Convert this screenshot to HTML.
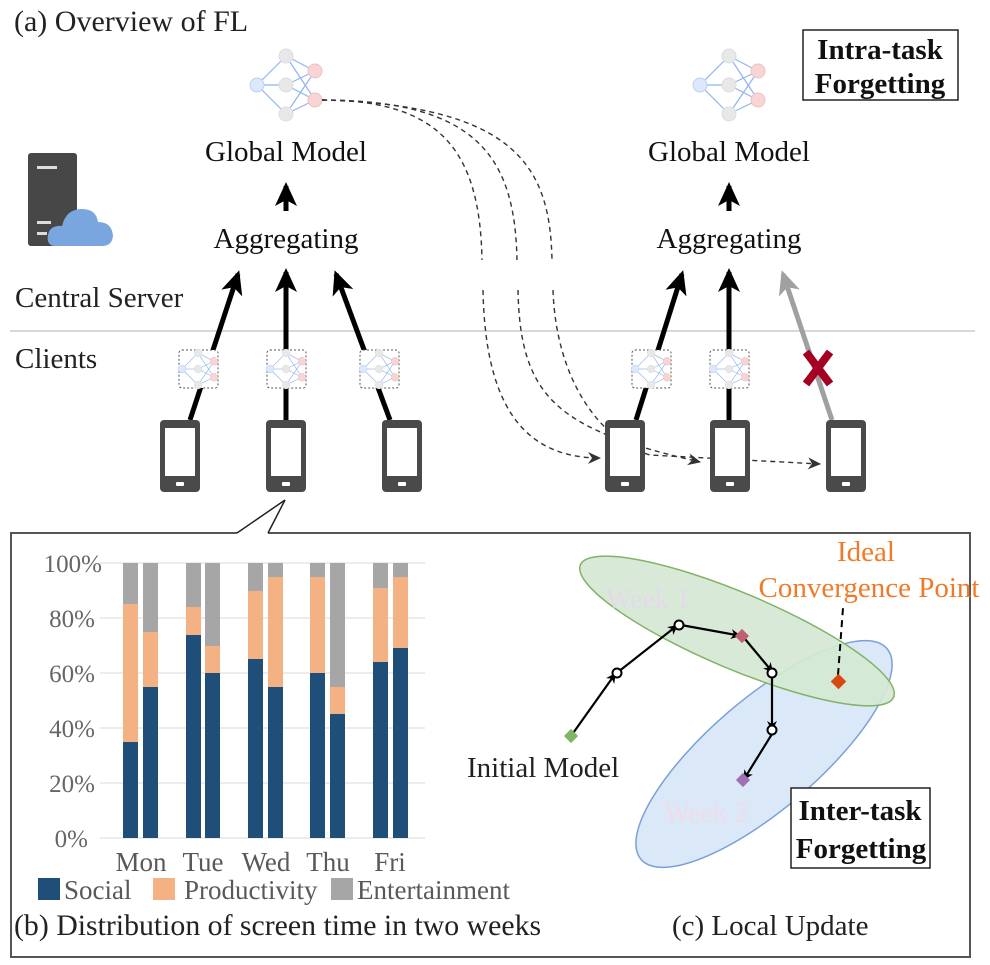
<!DOCTYPE html>
<html><head><meta charset="utf-8"><style>
html,body{margin:0;padding:0;background:#fff}
svg{display:block}
text{font-family:"Liberation Serif",serif}
</style></head><body>
<svg width="990" height="965" viewBox="0 0 990 965" xmlns="http://www.w3.org/2000/svg">
<defs>
<marker id="ah" markerWidth="10" markerHeight="10" refX="5" refY="5" orient="auto" markerUnits="userSpaceOnUse" viewBox="0 0 10 10"><path d="M0,0 L10,5 L0,10 L3,5 Z" fill="#000"/></marker>
<marker id="big" markerWidth="26" markerHeight="26" refX="20" refY="13" orient="auto" markerUnits="userSpaceOnUse" viewBox="0 0 26 26"><path d="M0,2 L24,13 L0,24 L6,13 Z" fill="#000"/></marker>
<marker id="bigg" markerWidth="26" markerHeight="26" refX="20" refY="13" orient="auto" markerUnits="userSpaceOnUse" viewBox="0 0 26 26"><path d="M0,2 L24,13 L0,24 L6,13 Z" fill="#a0a0a0"/></marker>
<marker id="dh" markerWidth="14" markerHeight="14" refX="12" refY="7" orient="auto" markerUnits="userSpaceOnUse" viewBox="0 0 14 14"><path d="M0,1 L13,7 L0,13 L4,7 Z" fill="#333"/></marker>
<g id="nn">
<g stroke="#8fb4ee" stroke-width="1.2">
<line x1="-29" y1="0" x2="0" y2="-29"/><line x1="-29" y1="0" x2="0" y2="0"/><line x1="-29" y1="0" x2="0" y2="29"/>
<line x1="0" y1="-29" x2="29" y2="-14"/><line x1="0" y1="-29" x2="29" y2="15"/>
<line x1="0" y1="0" x2="29" y2="-14"/><line x1="0" y1="0" x2="29" y2="15"/>
<line x1="0" y1="29" x2="29" y2="-14"/><line x1="0" y1="29" x2="29" y2="15"/>
</g>
<circle cx="-29" cy="0" r="7" fill="#dce8fb" stroke="#bcd0f0"/>
<circle cx="0" cy="-29" r="7" fill="#e8e8e8" stroke="#ddd"/>
<circle cx="0" cy="0" r="7" fill="#e8e8e8" stroke="#ddd"/>
<circle cx="0" cy="29" r="7" fill="#e8e8e8" stroke="#ddd"/>
<circle cx="29" cy="-14" r="7" fill="#f7d5d5" stroke="#f0c0c0"/>
<circle cx="29" cy="15" r="7" fill="#f7d5d5" stroke="#f0c0c0"/>
</g>
<g id="phone">
<rect x="0" y="0" width="40" height="72" rx="4" fill="#4a4a4a"/>
<rect x="5" y="8" width="30" height="48" fill="#fff"/>
<rect x="16" y="62" width="8" height="4" rx="1" fill="#fff"/>
</g>
<g id="snn">
<rect x="-19" y="-19" width="39" height="38" rx="3" fill="#fff" stroke="#555" stroke-dasharray="2,2"/>
<g transform="scale(0.55)"><use href="#nn"/></g>
</g>
</defs>

<text x="14" y="31" font-size="30" fill="#222">(a) Overview of FL</text>
<rect x="803" y="30" width="155" height="70" fill="#fff" stroke="#222" stroke-width="1.5"/>
<text x="880" y="59" font-size="29" font-weight="bold" text-anchor="middle" fill="#111">Intra-task</text>
<text x="880" y="93" font-size="29" font-weight="bold" text-anchor="middle" fill="#111">Forgetting</text>

<use href="#nn" transform="translate(286,85)"/>
<use href="#nn" transform="translate(729,85)"/>

<text x="286" y="161" font-size="29" text-anchor="middle" fill="#111">Global Model</text>
<text x="729" y="161" font-size="29" text-anchor="middle" fill="#111">Global Model</text>
<line x1="286" y1="211" x2="286" y2="186" stroke="#000" stroke-width="5" marker-end="url(#big)"/>
<line x1="729" y1="211" x2="729" y2="186" stroke="#000" stroke-width="5" marker-end="url(#big)"/>
<text x="286" y="248" font-size="29" text-anchor="middle" fill="#111">Aggregating</text>
<text x="729" y="248" font-size="29" text-anchor="middle" fill="#111">Aggregating</text>

<rect x="28" y="153" width="49" height="93" rx="3" fill="#474747"/>
<rect x="37" y="166" width="20" height="3" fill="#ddd"/>
<rect x="37" y="221" width="14" height="3" fill="#ddd"/>
<rect x="37" y="232" width="10" height="3" fill="#ddd"/>
<path d="M56,246 Q46,246 48,235 Q50,225 62,226 Q66,209 82,209 Q96,209 98,222 Q112,222 113,236 Q112,246 102,246 Z" fill="#7aa6e0"/>

<text x="15" y="307" font-size="29" fill="#222">Central Server</text>
<line x1="10" y1="331" x2="975" y2="331" stroke="#ccc" stroke-width="1.5"/>
<text x="15" y="368" font-size="29" fill="#222">Clients</text>

<g fill="none" stroke="#333" stroke-width="1.4" stroke-dasharray="5,4">
<path d="M322,100 C440,100 480,150 482,260 M483,290 C485,400 520,458 600,458" marker-end="url(#dh)"/>
<path d="M322,100 C480,100 515,160 517,260 M518,290 C520,400 560,430 700,462" marker-end="url(#dh)"/>
<path d="M322,100 C520,105 550,170 552,260 M553,290 C556,380 600,440 650,455 L820,464" marker-end="url(#dh)"/>
</g>

<g stroke="#000" stroke-width="5">
<line x1="190" y1="420" x2="238" y2="274" marker-end="url(#big)"/>
<line x1="286" y1="420" x2="286" y2="272" marker-end="url(#big)"/>
<line x1="390" y1="420" x2="336" y2="274" marker-end="url(#big)"/>
<line x1="636" y1="420" x2="682" y2="274" marker-end="url(#big)"/>
<line x1="729" y1="420" x2="729" y2="272" marker-end="url(#big)"/>
</g>
<line x1="832" y1="420" x2="783" y2="274" stroke="#a0a0a0" stroke-width="5" marker-end="url(#bigg)"/>
<path d="M806,352 L830,384 M830,352 L806,384" stroke="#a50021" stroke-width="8"/>

<use href="#snn" transform="translate(198,369)"/>
<use href="#snn" transform="translate(286,369)"/>
<use href="#snn" transform="translate(379,369)"/>
<use href="#snn" transform="translate(651,369)"/>
<use href="#snn" transform="translate(729,369)"/>

<use href="#phone" x="160" y="420"/>
<use href="#phone" x="266" y="420"/>
<use href="#phone" x="382" y="420"/>
<use href="#phone" x="605" y="420"/>
<use href="#phone" x="710" y="420"/>
<use href="#phone" x="826" y="420"/>

<path d="M237,533 L11,533 L11,957 L970,957 L970,533 L268,533" fill="none" stroke="#555" stroke-width="2"/>
<path d="M237,533 L285,500 L268,533" fill="#fff" stroke="#222" stroke-width="1.5"/>

<g stroke="#e6e6e6" stroke-width="1.5">
<line x1="100" y1="563" x2="425" y2="563"/><line x1="100" y1="618" x2="425" y2="618"/>
<line x1="100" y1="673" x2="425" y2="673"/><line x1="100" y1="728" x2="425" y2="728"/>
<line x1="100" y1="783" x2="425" y2="783"/><line x1="100" y1="838" x2="425" y2="838"/>
</g>
<g font-size="25" fill="#666" text-anchor="end">
<text x="102" y="572">100%</text><text x="95" y="627">80%</text><text x="95" y="682">60%</text>
<text x="95" y="737">40%</text><text x="95" y="792">20%</text><text x="88" y="847">0%</text>
</g>
<g>
<rect x="123" y="563" width="15" height="275" fill="#a6a6a6"/><rect x="123" y="604" width="15" height="234" fill="#f4b183"/><rect x="123" y="742" width="15" height="96" fill="#1f4e79"/>
<rect x="143" y="563" width="15" height="275" fill="#a6a6a6"/><rect x="143" y="632" width="15" height="206" fill="#f4b183"/><rect x="143" y="687" width="15" height="151" fill="#1f4e79"/>
<rect x="186" y="563" width="15" height="275" fill="#a6a6a6"/><rect x="186" y="607" width="15" height="231" fill="#f4b183"/><rect x="186" y="635" width="15" height="203" fill="#1f4e79"/>
<rect x="205" y="563" width="15" height="275" fill="#a6a6a6"/><rect x="205" y="646" width="15" height="192" fill="#f4b183"/><rect x="205" y="673" width="15" height="165" fill="#1f4e79"/>
<rect x="248" y="563" width="15" height="275" fill="#a6a6a6"/><rect x="248" y="591" width="15" height="247" fill="#f4b183"/><rect x="248" y="659" width="15" height="179" fill="#1f4e79"/>
<rect x="268" y="563" width="15" height="275" fill="#a6a6a6"/><rect x="268" y="577" width="15" height="261" fill="#f4b183"/><rect x="268" y="687" width="15" height="151" fill="#1f4e79"/>
<rect x="310" y="563" width="15" height="275" fill="#a6a6a6"/><rect x="310" y="577" width="15" height="261" fill="#f4b183"/><rect x="310" y="673" width="15" height="165" fill="#1f4e79"/>
<rect x="330" y="563" width="15" height="275" fill="#a6a6a6"/><rect x="330" y="687" width="15" height="151" fill="#f4b183"/><rect x="330" y="714" width="15" height="124" fill="#1f4e79"/>
<rect x="373" y="563" width="15" height="275" fill="#a6a6a6"/><rect x="373" y="588" width="15" height="250" fill="#f4b183"/><rect x="373" y="662" width="15" height="176" fill="#1f4e79"/>
<rect x="393" y="563" width="15" height="275" fill="#a6a6a6"/><rect x="393" y="577" width="15" height="261" fill="#f4b183"/><rect x="393" y="648" width="15" height="190" fill="#1f4e79"/>
</g>
<g font-size="27" fill="#595959" text-anchor="middle">
<text x="141" y="871">Mon</text><text x="203" y="871">Tue</text><text x="266" y="871">Wed</text><text x="328" y="871">Thu</text><text x="390" y="871">Fri</text>
</g>
<rect x="38" y="878" width="22" height="22" fill="#1f4e79"/>
<text x="64" y="899" font-size="27" fill="#595959">Social</text>
<rect x="153" y="878" width="22" height="22" fill="#f4b183"/>
<text x="184" y="899" font-size="27" fill="#595959">Productivity</text>
<rect x="331" y="878" width="22" height="22" fill="#a6a6a6"/>
<text x="357" y="899" font-size="27" fill="#595959">Entertainment</text>
<text x="14" y="935" font-size="29.8" fill="#222">(b) Distribution of screen time in two weeks</text>

<ellipse cx="764" cy="754" rx="162" ry="55" transform="rotate(-40.6 764 754)" fill="#dae8f8" stroke="#7aa0d8" stroke-width="1.5"/>
<ellipse cx="737" cy="631" rx="170" ry="38" transform="rotate(22.9 737 631)" fill="#d5e8d4" fill-opacity="0.92" stroke="#82b366" stroke-width="1.5"/>
<text x="606" y="608" font-size="28" fill="#e6d8ec">Week 1</text>
<text x="664" y="822" font-size="28" fill="#f0dce8">Week 2</text>
<g stroke="#000" stroke-width="2.2" fill="none">
<line x1="571" y1="736" x2="613" y2="677" marker-end="url(#ah)"/>
<line x1="618" y1="672" x2="674" y2="628" marker-end="url(#ah)"/>
<line x1="681" y1="625" x2="736" y2="635" marker-end="url(#ah)"/>
<line x1="745" y1="639" x2="770" y2="669" marker-end="url(#ah)"/>
<line x1="772" y1="677" x2="772" y2="726" marker-end="url(#ah)"/>
<line x1="772" y1="734" x2="746" y2="776" marker-end="url(#ah)"/>
</g>
<line x1="838" y1="675" x2="843" y2="608" stroke="#000" stroke-width="2" stroke-dasharray="7,5"/>
<g fill="#fff" stroke="#000" stroke-width="2">
<circle cx="617" cy="673" r="4.5"/><circle cx="679" cy="625" r="4.5"/><circle cx="772" cy="673" r="4.5"/><circle cx="772" cy="730" r="4.5"/>
</g>
<rect x="566" y="731" width="10" height="10" transform="rotate(45 571 736)" fill="#82b366"/>
<rect x="737" y="631" width="10" height="10" transform="rotate(45 742 636)" fill="#c06070"/>
<rect x="738" y="775" width="10" height="10" transform="rotate(45 743 780)" fill="#a070b0"/>
<rect x="833" y="676" width="11" height="11" transform="rotate(45 838.5 681.5)" fill="#d9480f"/>
<text x="866" y="561" font-size="29" fill="#f07a2a" text-anchor="middle">Ideal</text>
<text x="869" y="597" font-size="29" fill="#f07a2a" text-anchor="middle">Convergence Point</text>
<text x="467" y="777" font-size="29" fill="#222">Initial Model</text>
<rect x="791" y="788" width="139" height="80" fill="#fff" stroke="#222" stroke-width="1.5"/>
<text x="860" y="820" font-size="29" font-weight="bold" text-anchor="middle" fill="#111">Inter-task</text>
<text x="861" y="858" font-size="29" font-weight="bold" text-anchor="middle" fill="#111">Forgetting</text>
<text x="672" y="935" font-size="29" fill="#222">(c) Local Update</text>
</svg>
</body></html>
